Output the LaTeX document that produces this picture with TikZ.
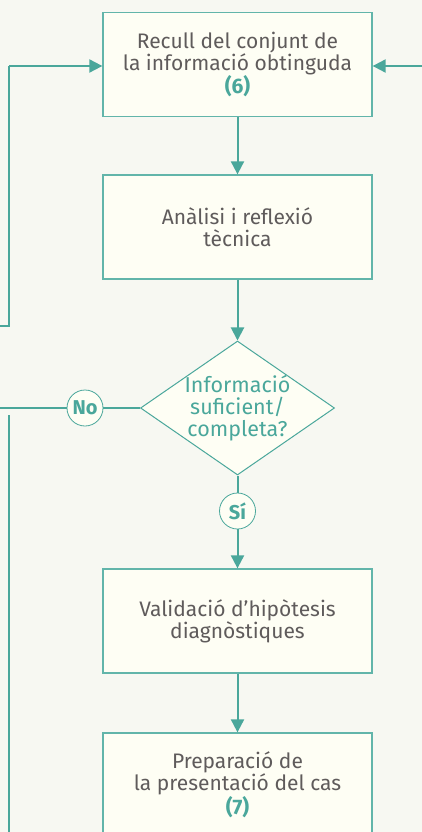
\documentclass[tikz,border=0pt]{standalone}
\usepackage{fontspec}
\setmainfont{Fira Sans}
\usetikzlibrary{arrows.meta,shapes.geometric}
\definecolor{bgc}{HTML}{F7F8F2}
\definecolor{boxfill}{HTML}{FEFEF4}
\definecolor{teal1}{HTML}{4AA79B}
\definecolor{tealb}{HTML}{62B5AA}
\definecolor{txt}{HTML}{5F5B5B}
\tikzset{
  x=1pt, y=-1pt,
  stepbox/.style={draw=tealb, line width=1.3pt, fill=boxfill, minimum width=269pt, minimum height=104pt, inner sep=0pt, align=center, text=txt, font=\fontsize{21}{22}\selectfont},
  decision/.style={diamond, draw=teal1, line width=1pt, fill=boxfill, minimum width=194pt, minimum height=134pt, aspect=1.448, inner sep=-2.5pt, align=center, text=teal1, font=\fontsize{21.5}{22}\selectfont},
  answer/.style={circle, draw=teal1, line width=0.8pt, fill=boxfill, minimum size=36pt, inner sep=0pt, text=teal1, font=\fontsize{20}{20}\selectfont\bfseries},
  flow/.style={draw=teal1, line width=2pt},
  arr/.style={flow, -{Triangle[length=13pt,width=13pt]}}
}
\begin{document}
\begin{tikzpicture}
\useasboundingbox (0,0) rectangle (422,832);
\fill[bgc] (0,0) rectangle (422,832);
\clip (0,0) rectangle (422,832);
\node[stepbox] (b1) at (237.5,64.5) {Recull del conjunt de\\la informació obtinguda\\{\color{teal1}\bfseries(6)}};
\node[stepbox] (b2) at (237.5,227) {Anàlisi i reflexió\\tècnica};
\node[decision] (d) at (237.5,408) {Informació\\suficient/\\completa?};
\node[answer] (no) at (85,408) {No};
\node[answer] (si) at (237.5,511) {Sí};
\node[stepbox] (b3) at (237.5,621) {Validació d’hipòtesis\\diagnòstiques};
\node[stepbox] (b4) at (237.5,785) {Preparació de\\la presentació del cas\\{\color{teal1}\bfseries(7)}};
\coordinate (lin) at (0,326);
\coordinate (lc) at (9,326);
\coordinate (lt) at (9,66);
\coordinate (rin) at (422,66);
\coordinate (nol) at (0,408);
\coordinate (vtop) at (9,415);
\coordinate (vbot) at (9,832);
\draw[flow] (lin) -- (lc) -- (lt);
\draw[arr] (lt) -- (lt -| b1.west);
\draw[arr] (rin) -- (rin -| b1.east);
\draw[arr] (b1) -- (b2);
\draw[arr] (b2) -- (d);
\draw[flow] (nol) -- (no);
\draw[flow] (no) -- (d);
\draw[flow] (d) -- (si);
\draw[arr] (si) -- (b3);
\draw[arr] (b3) -- (b4);
\draw[flow] (vtop) -- (vbot);
\end{tikzpicture}
\end{document}
